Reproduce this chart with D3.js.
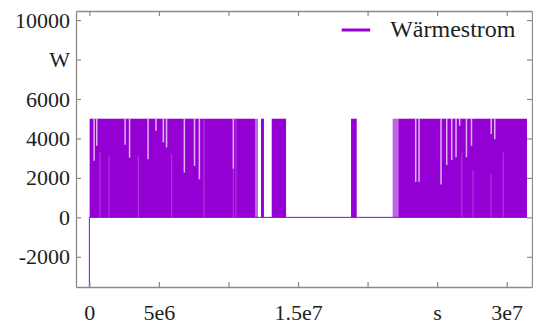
<!DOCTYPE html>
<html>
<head>
<meta charset="utf-8">
<script src="https://cdn.jsdelivr.net/npm/d3@7"></script>
<style>
	body { margin: 0; background: #fff; }
	svg { display: block; font-family: 'Liberation Serif', 'Times New Roman', serif; }
</style>
</head>
<body>
<div id="chart"></div>
<script>
// axis ticks and labels
const xTicks = [0, 5e6, 1e7, 1.5e7, 2e7, 2.5e7, 3e7];
const xTickLabels = ['0', '5e6', '', '1.5e7', '', 's', '3e7'];
const yTicks = [-2000, 0, 2000, 4000, 6000, 8000, 10000];
const yTickLabels = ['-2000', '0', '2000', '4000', '6000', 'W', '10000'];
const seriesName = 'Wärmestrom';

// continuous trace: start-up transient, then idle at 0 W (s, W)
const traceT = [0, 0, 0.02e6, 31.46e6];
const traceW = [-4200, 0, 0, 0];

// heater level while switching on/off
const onLevel = 5000;
// periods of dense switching between 0 and onLevel [start s, end s]
const denseBlocks = [
	[0.02e6, 11.91e6],
	[12.34e6, 12.55e6],
	[13.11e6, 14.14e6],
	[18.81e6, 19.22e6],
	[22.21e6, 31.46e6]
];
// periods of sparser switching [start s, end s]
const sparseBlocks = [
	[11.91e6, 12.12e6],
	[21.80e6, 22.21e6]
];
// short stretches where the peaks stay below onLevel [time s, peak W]
const dips = [
	[0.34e6, 2865], [0.53e6, 3630], [2.57e6, 3680], [2.89e6, 3030],
	[4.22e6, 2950], [4.79e6, 4390], [5.32e6, 3800], [5.55e6, 3540],
	[6.83e6, 2270], [7.56e6, 2610], [7.91e6, 1930], [10.35e6, 2470],
	[23.46e6, 1800], [23.70e6, 1800], [25.28e6, 1670], [25.69e6, 2650],
	[26.05e6, 2900], [26.36e6, 3050], [26.62e6, 4650], [27.11e6, 3050],
	[27.47e6, 3630], [28.89e6, 4220], [29.14e6, 3960]
];
// thin gaps in the switching pattern below a level [time s, level W]
const thinGaps = [
	[0.77e6, 3290], [1.42e6, 3120], [3.52e6, 3100], [5.92e6, 3200],
	[8.24e6, 5000], [10.35e6, 2470], [10.54e6, 5000], [26.78e6, 3290],
	[27.58e6, 2360], [28.87e6, 2180], [29.75e6, 3290]
];

const purple = '#9400d3';
const frameColor = '#8a8a8a';

const W = 533, H = 327;
const margin = { top: 11, right: 1, bottom: 40, left: 76 };
const width = W - margin.left - margin.right;
const height = H - margin.top - margin.bottom;

const svg = d3.select('#chart').append('svg').attr('width', W).attr('height', H);
const g = svg.append('g').attr('transform', `translate(${margin.left},${margin.top})`);

const x = d3.scaleLinear().domain([-0.96e6, 31.82e6]).range([0, width]);
const y = d3.scaleLinear().domain([-3530, 10460]).range([height, 0]);

g.append('clipPath').attr('id', 'plot-clip')
	.append('rect').attr('width', width).attr('height', height);

const plot = g.append('g').attr('clip-path', 'url(#plot-clip)');

// thin trace (zero line and start spike)
const trace = traceT.map((t, i) => [t, traceW[i]]);
plot.append('path')
	.datum(trace)
	.attr('fill', 'none')
	.attr('stroke', purple)
	.attr('stroke-width', 1)
	.attr('d', d3.line().x((d) => x(d[0])).y((d) => y(d[1])));

plot.selectAll('rect.sparse')
	.data(sparseBlocks)
	.enter()
	.append('rect')
	.attr('class', 'sparse')
	.attr('x', (d) => x(d[0]))
	.attr('width', (d) => x(d[1]) - x(d[0]))
	.attr('y', y(onLevel))
	.attr('height', y(0) - y(onLevel))
	.attr('fill', purple)
	.attr('fill-opacity', 0.6);

plot.selectAll('rect.dense')
	.data(denseBlocks)
	.enter()
	.append('rect')
	.attr('class', 'dense')
	.attr('x', (d) => x(d[0]))
	.attr('width', (d) => x(d[1]) - x(d[0]))
	.attr('y', y(onLevel))
	.attr('height', y(0) - y(onLevel))
	.attr('fill', purple);

plot.selectAll('line.gap')
	.data(thinGaps)
	.enter()
	.append('line')
	.attr('class', 'gap')
	.attr('x1', (d) => x(d[0]))
	.attr('x2', (d) => x(d[0]))
	.attr('y1', (d) => y(d[1]))
	.attr('y2', y(0))
	.attr('stroke', '#fff')
	.attr('stroke-opacity', 0.25)
	.attr('stroke-width', 1);

plot.selectAll('line.dip')
	.data(dips)
	.enter()
	.append('line')
	.attr('class', 'dip')
	.attr('x1', (d) => x(d[0]))
	.attr('x2', (d) => x(d[0]))
	.attr('y1', y(onLevel))
	.attr('y2', (d) => y(d[1]))
	.attr('stroke', '#fff')
	.attr('stroke-opacity', 0.7)
	.attr('stroke-width', 1.5);

// axes with inward ticks on all four sides
function styleAxis(sel) {
	sel.select('.domain').attr('stroke', frameColor).attr('stroke-width', 1.3);
	sel.selectAll('.tick line').attr('stroke', frameColor).attr('stroke-width', 1.2);
	sel.selectAll('.tick text').attr('fill', '#1e1e1e').style('font-size', '22px')
		.style('font-family', "'Liberation Serif', 'Times New Roman', serif");
}

g.append('g')
	.attr('transform', `translate(0,${height})`)
	.call(d3.axisBottom(x).tickValues(xTicks).tickSizeInner(-5).tickSizeOuter(0).tickPadding(17)
		.tickFormat((d, i) => xTickLabels[i]))
	.call(styleAxis);

g.append('g')
	.call(d3.axisTop(x).tickValues(xTicks).tickSizeInner(-5).tickSizeOuter(0).tickFormat(''))
	.call(styleAxis);

g.append('g')
	.call(d3.axisLeft(y).tickValues(yTicks).tickSizeInner(-5).tickSizeOuter(0).tickPadding(6)
		.tickFormat((d, i) => yTickLabels[i]))
	.call(styleAxis);

g.append('g')
	.attr('transform', `translate(${width},0)`)
	.call(d3.axisRight(y).tickValues(yTicks).tickSizeInner(-5).tickSizeOuter(0).tickFormat(''))
	.call(styleAxis);

// legend
const legend = g.append('g').attr('transform', `translate(${341.7 - margin.left},${30 - margin.top})`);
legend.append('line').attr('x1', 0).attr('x2', 28.5).attr('y1', 0).attr('y2', 0)
	.attr('stroke', purple).attr('stroke-width', 3);
legend.append('text').attr('x', 48.5).attr('y', 6.5)
	.attr('fill', '#1e1e1e').style('font-size', '24px')
	.text(seriesName);
</script>
</body>
</html>
